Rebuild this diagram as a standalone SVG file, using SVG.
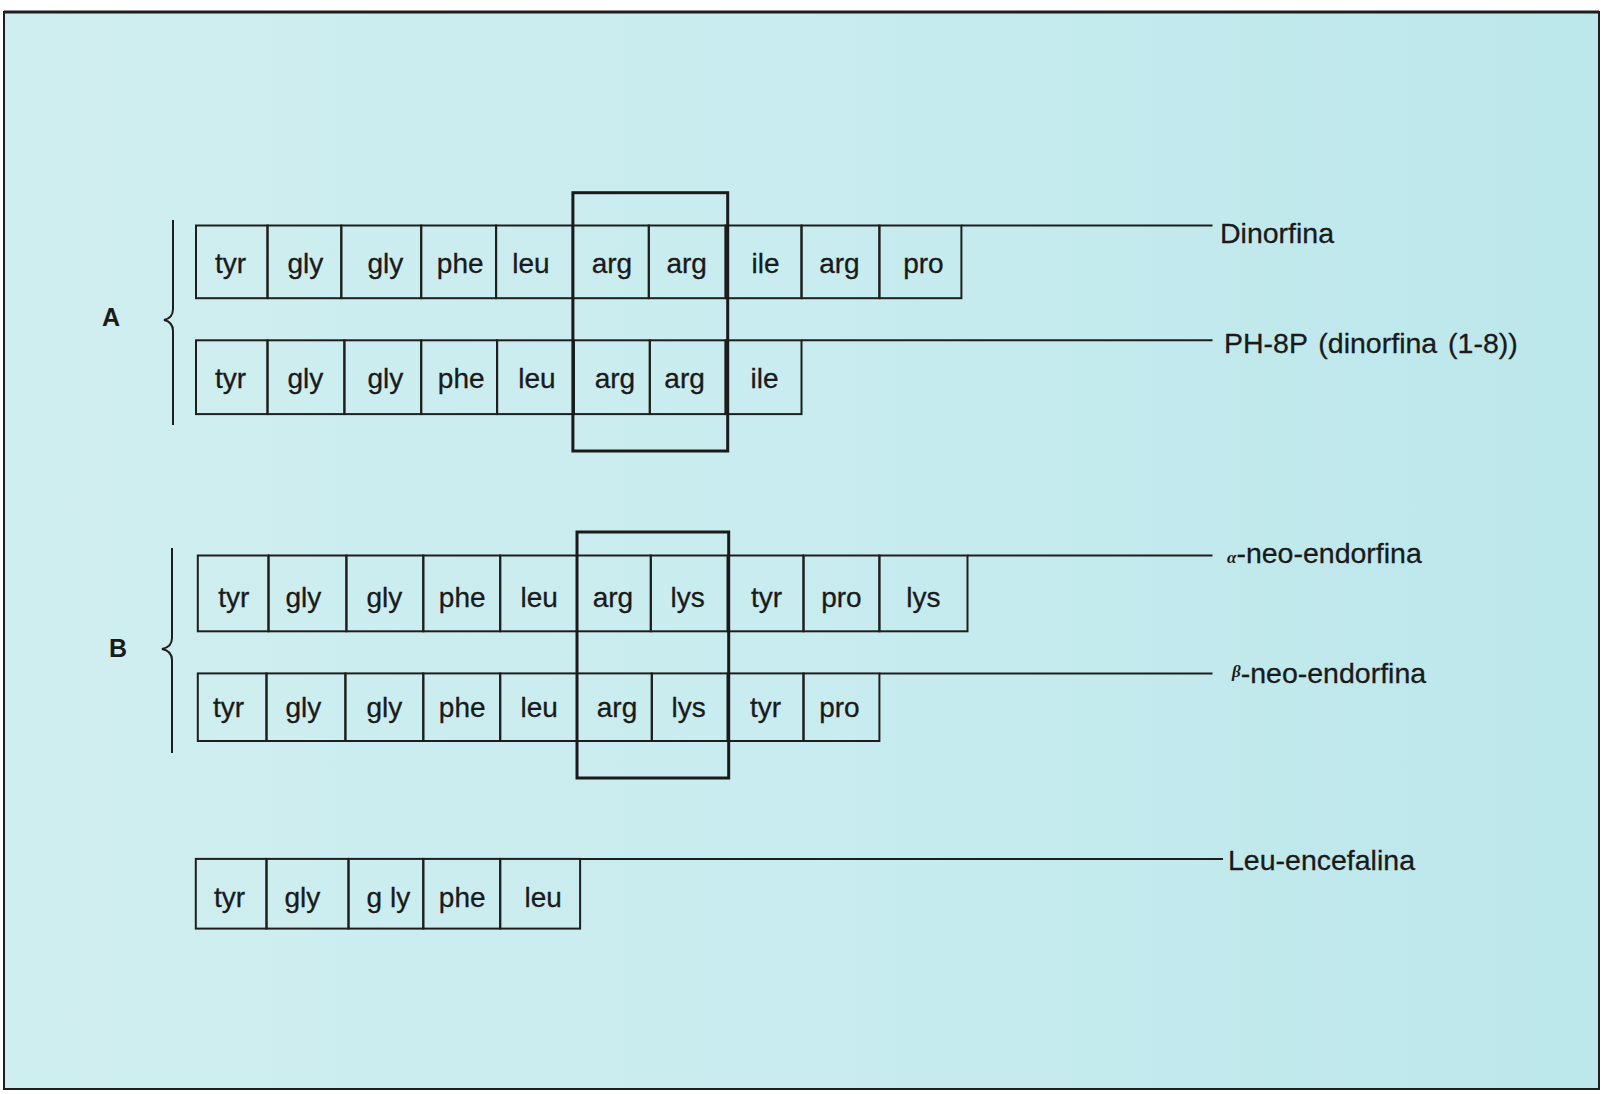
<svg xmlns="http://www.w3.org/2000/svg" width="1607" height="1094" viewBox="0 0 1607 1094">
<defs>
<linearGradient id="bg" x1="0" y1="0" x2="1" y2="0">
<stop offset="0" stop-color="#d0eef0"/>
<stop offset="0.5" stop-color="#c8ecef"/>
<stop offset="1" stop-color="#bce7eb"/>
</linearGradient>
</defs>
<style>
.cell{fill:none;stroke:#1e1e1e;stroke-width:2}
.hl{fill:none;stroke:#1a1a1a;stroke-width:3}
.ct{font-family:"Liberation Sans",Arial,sans-serif;font-size:28px;fill:#1a1a1a;stroke:#1a1a1a;stroke-width:0.3;text-anchor:middle}
.lb{font-family:"Liberation Sans",Arial,sans-serif;font-size:28.5px;fill:#1a1a1a;stroke:#1a1a1a;stroke-width:0.3}
.gk{font-family:"Liberation Serif",serif;font-size:17px;font-style:italic;font-weight:bold}
.conn{stroke:#1e1e1e;stroke-width:2;fill:none}
.brace{stroke:#1e1e1e;stroke-width:2;fill:none}
.grp{font-family:"Liberation Sans",Arial,sans-serif;font-size:25px;font-weight:bold;fill:#1a1a1a;text-anchor:middle}
</style>
<rect x="0" y="0" width="1607" height="1094" fill="#ffffff"/>
<rect x="4" y="12" width="1595" height="1077" fill="url(#bg)" stroke="#1e1e1e" stroke-width="2"/>
<line x1="4" y1="12" x2="1599" y2="12" stroke="#1e1e1e" stroke-width="3"/>

<g id="brace-A">
<path class="brace" d="M173,220 L173,309 Q173,318 164,320 Q173,322 173,331 L173,425"/>
<text class="grp" x="111" y="326">A</text>
</g>
<g id="brace-B">
<path class="brace" d="M172,548 L172,638 Q172,647 162,649 Q172,651 172,660 L172,753"/>
<text class="grp" x="118" y="657">B</text>
</g>

<g id="row-dinorfina">
<rect class="cell" x="196" y="225.5" width="71.5" height="72.7"/>
<rect class="cell" x="267.5" y="225.5" width="73.8" height="72.7"/>
<rect class="cell" x="341.3" y="225.5" width="79.9" height="72.7"/>
<rect class="cell" x="421.2" y="225.5" width="74.9" height="72.7"/>
<rect class="cell" x="496.1" y="225.5" width="76.8" height="72.7"/>
<rect class="cell" x="572.9" y="225.5" width="75.9" height="72.7"/>
<rect class="cell" x="648.8" y="225.5" width="76.8" height="72.7"/>
<rect class="cell" x="725.6" y="225.5" width="75.9" height="72.7"/>
<rect class="cell" x="801.5" y="225.5" width="77.9" height="72.7"/>
<rect class="cell" x="879.4" y="225.5" width="82" height="72.7"/>
<text class="ct" x="230.6" y="273">tyr</text>
<text class="ct" x="305.4" y="273">gly</text>
<text class="ct" x="385.4" y="273">gly</text>
<text class="ct" x="460.2" y="273">phe</text>
<text class="ct" x="530.9" y="273">leu</text>
<text class="ct" x="611.9" y="273">arg</text>
<text class="ct" x="686.7" y="273">arg</text>
<text class="ct" x="765.6" y="273">ile</text>
<text class="ct" x="839.4" y="273">arg</text>
<text class="ct" x="923.4" y="273">pro</text>
</g>

<g id="row-ph8p">
<rect class="cell" x="196" y="340.3" width="71.5" height="73.8"/>
<rect class="cell" x="267.5" y="340.3" width="76.9" height="73.8"/>
<rect class="cell" x="344.4" y="340.3" width="76.8" height="73.8"/>
<rect class="cell" x="421.2" y="340.3" width="75.9" height="73.8"/>
<rect class="cell" x="497.1" y="340.3" width="76.8" height="73.8"/>
<rect class="cell" x="573.9" y="340.3" width="75.9" height="73.8"/>
<rect class="cell" x="649.8" y="340.3" width="75.8" height="73.8"/>
<rect class="cell" x="725.6" y="340.3" width="75.9" height="73.8"/>
<text class="ct" x="230.6" y="388">tyr</text>
<text class="ct" x="305.4" y="388">gly</text>
<text class="ct" x="385.4" y="388">gly</text>
<text class="ct" x="461.2" y="388">phe</text>
<text class="ct" x="537" y="388">leu</text>
<text class="ct" x="614.9" y="388">arg</text>
<text class="ct" x="684.6" y="388">arg</text>
<text class="ct" x="764.6" y="388">ile</text>
</g>

<g id="row-alpha">
<rect class="cell" x="197.8" y="555.5" width="70.7" height="75.8"/>
<rect class="cell" x="268.5" y="555.5" width="77.9" height="75.8"/>
<rect class="cell" x="346.4" y="555.5" width="76.9" height="75.8"/>
<rect class="cell" x="423.3" y="555.5" width="76.9" height="75.8"/>
<rect class="cell" x="500.2" y="555.5" width="76.8" height="75.8"/>
<rect class="cell" x="577" y="555.5" width="73.8" height="75.8"/>
<rect class="cell" x="650.8" y="555.5" width="76.9" height="75.8"/>
<rect class="cell" x="727.7" y="555.5" width="75.8" height="75.8"/>
<rect class="cell" x="803.5" y="555.5" width="75.9" height="75.8"/>
<rect class="cell" x="879.4" y="555.5" width="88.1" height="75.8"/>
<text class="ct" x="233.7" y="607">tyr</text>
<text class="ct" x="303.4" y="607">gly</text>
<text class="ct" x="384.3" y="607">gly</text>
<text class="ct" x="462.2" y="607">phe</text>
<text class="ct" x="539.1" y="607">leu</text>
<text class="ct" x="612.9" y="607">arg</text>
<text class="ct" x="687.7" y="607">lys</text>
<text class="ct" x="766.6" y="607">tyr</text>
<text class="ct" x="841.4" y="607">pro</text>
<text class="ct" x="923.4" y="607">lys</text>
</g>

<g id="row-beta">
<rect class="cell" x="197.8" y="673.4" width="68.7" height="67.6"/>
<rect class="cell" x="266.5" y="673.4" width="78.9" height="67.6"/>
<rect class="cell" x="345.4" y="673.4" width="77.9" height="67.6"/>
<rect class="cell" x="423.3" y="673.4" width="76.9" height="67.6"/>
<rect class="cell" x="500.2" y="673.4" width="76.8" height="67.6"/>
<rect class="cell" x="577" y="673.4" width="74.8" height="67.6"/>
<rect class="cell" x="651.8" y="673.4" width="75.9" height="67.6"/>
<rect class="cell" x="727.7" y="673.4" width="75.8" height="67.6"/>
<rect class="cell" x="803.5" y="673.4" width="75.9" height="67.6"/>
<text class="ct" x="228.6" y="717">tyr</text>
<text class="ct" x="303.4" y="717">gly</text>
<text class="ct" x="384.3" y="717">gly</text>
<text class="ct" x="462.2" y="717">phe</text>
<text class="ct" x="539.1" y="717">leu</text>
<text class="ct" x="617" y="717">arg</text>
<text class="ct" x="688.7" y="717">lys</text>
<text class="ct" x="765.6" y="717">tyr</text>
<text class="ct" x="839.4" y="717">pro</text>
</g>

<g id="row-leu-encefalina">
<rect class="cell" x="195.8" y="858.9" width="70.7" height="69.7"/>
<rect class="cell" x="266.5" y="858.9" width="82" height="69.7"/>
<rect class="cell" x="348.5" y="858.9" width="74.8" height="69.7"/>
<rect class="cell" x="423.3" y="858.9" width="76.9" height="69.7"/>
<rect class="cell" x="500.2" y="858.9" width="79.9" height="69.7"/>
<text class="ct" x="229.6" y="907">tyr</text>
<text class="ct" x="302.3" y="907">gly</text>
<text class="ct" x="388.4" y="907">g ly</text>
<text class="ct" x="462.2" y="907">phe</text>
<text class="ct" x="543.2" y="907">leu</text>
</g>

<g id="box-arg-arg">
<rect class="hl" x="572.9" y="192.7" width="154.8" height="258.3"/>
</g>
<g id="box-arg-lys">
<rect class="hl" x="577" y="532" width="151.7" height="246"/>
</g>

<g id="connectors">
<line class="conn" x1="961.4" y1="225.5" x2="1212.5" y2="225.5"/>
<line class="conn" x1="801.5" y1="340.3" x2="1212.5" y2="340.3"/>
<line class="conn" x1="967.5" y1="555.5" x2="1212.5" y2="555.5"/>
<line class="conn" x1="879.4" y1="673.4" x2="1212.5" y2="673.4"/>
<line class="conn" x1="580.1" y1="858.9" x2="1223" y2="858.9"/>
</g>

<g id="labels">
<text class="lb" x="1220" y="243">Dinorfina</text>
<text class="lb" x="1224" y="353" word-spacing="3">PH-8P (dinorfina (1-8))</text>
<text class="lb" x="1227" y="563"><tspan class="gk" stroke="none">α</tspan>-neo-endorfina</text>
<text class="lb" x="1232" y="683"><tspan class="gk" stroke="none" font-size="13" dy="-6">β</tspan><tspan dy="6">-neo-endorfina</tspan></text>
<text class="lb" x="1228" y="870">Leu-encefalina</text>
</g>
</svg>
